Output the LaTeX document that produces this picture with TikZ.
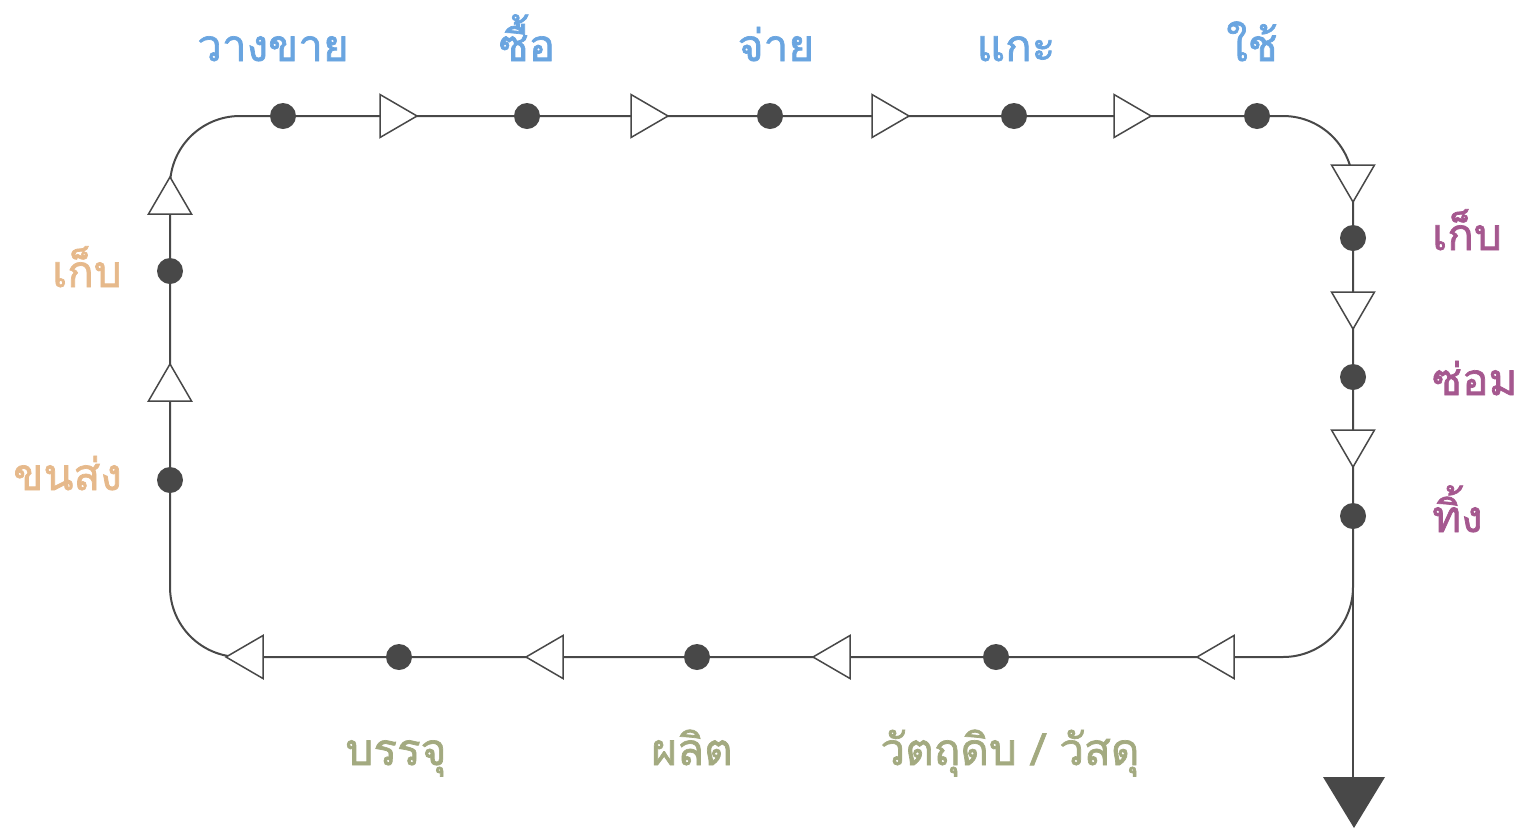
\documentclass[tikz,border=0pt]{standalone}
\usepackage{fontspec}
\newfontfamily\thaifont[Script=Thai,FakeBold=1.6]{Loma}
\definecolor{lc}{HTML}{484848}
\definecolor{cblue}{HTML}{6AA5E0}
\definecolor{cpurple}{HTML}{A5588F}
\definecolor{corange}{HTML}{E6B98B}
\definecolor{colive}{HTML}{A3AA80}
\tikzset{
  flow/.style={draw=lc, line width=2pt},
  dot/.style={circle, fill=lc, inner sep=0pt, minimum size=26pt},
  lbl/.style={font=\thaifont\fontsize{44}{50}\selectfont, inner sep=0pt},
  pics/flowmark/.style={code={\draw[draw=lc, line width=1.5pt, fill=white, line join=miter] (0,-21.5) -- (37,0) -- (0,21.5) -- cycle;}},
  pics/sinkmark/.style={code={\fill[lc] (-31,0) -- (31,0) -- (0,51) -- cycle;}}
}
\begin{document}
\begin{tikzpicture}[x=1pt,y=-1pt]
\useasboundingbox (0,0) rectangle (1527,831);
% loop
\coordinate (tl) at (170,116);
\coordinate (tr) at (1353,116);
\coordinate (br) at (1353,657);
\coordinate (bl) at (170,657);
\coordinate (rs) at (1353,400);
\coordinate (ex) at (1353,500);
\coordinate (exend) at (1353,780);
\draw[flow, rounded corners=70pt] (rs) -- (br) -- (bl) -- (tl) -- (tr) -- cycle;
\draw[flow] (ex) -- (exend);
\pic (sink) at (1354,777) {sinkmark};
% arrow marks: top (right)
\pic at (380,116) {flowmark};
\pic at (631,116) {flowmark};
\pic at (872,116) {flowmark};
\pic at (1114,116) {flowmark};
% right (down)
\pic[rotate=-90] at (1353,165) {flowmark};
\pic[rotate=-90] at (1353,292) {flowmark};
\pic[rotate=-90] at (1353,430) {flowmark};
% bottom (left)
\pic[rotate=180] at (1234,657) {flowmark};
\pic[rotate=180] at (850,657) {flowmark};
\pic[rotate=180] at (563,657) {flowmark};
\pic[rotate=180] at (263,657) {flowmark};
% left (up)
\pic[rotate=90] at (170,401) {flowmark};
\pic[rotate=90] at (170,214) {flowmark};
% dots
\node[dot] (t1) at (283,116) {};
\node[dot] (t2) at (527,116) {};
\node[dot] (t3) at (770,116) {};
\node[dot] (t4) at (1014,116) {};
\node[dot] (t5) at (1257,116) {};
\node[dot] (r1) at (1353,238) {};
\node[dot] (r2) at (1353,377) {};
\node[dot] (r3) at (1353,516) {};
\node[dot] (b1) at (996,657) {};
\node[dot] (b2) at (697,657) {};
\node[dot] (b3) at (399,657) {};
\node[dot] (l1) at (170,480) {};
\node[dot] (l2) at (170,271) {};
% labels
\node[lbl, text=cblue, anchor=base] (lt1) at (273,61) {วางขาย};
\node[lbl, text=cblue, anchor=base] (lt2) at (527,61) {ซื้อ};
\node[lbl, text=cblue, anchor=base] (lt3) at (776,61) {จ่าย};
\node[lbl, text=cblue, anchor=base] (lt4) at (1016,61) {แกะ};
\node[lbl, text=cblue, anchor=base] (lt5) at (1252,61) {ใช้};
\node[lbl, text=cpurple, anchor=base west] (lr1) at (1432,250) {เก็บ};
\node[lbl, text=cpurple, anchor=base west] (lr2) at (1432,395) {ซ่อม};
\node[lbl, text=cpurple, anchor=base west] (lr3) at (1432,532) {ทิ้ง};
\node[lbl, text=corange, anchor=base east] (ll1) at (122,287) {เก็บ};
\node[lbl, text=corange, anchor=base east] (ll2) at (122,490) {ขนส่ง};
\node[lbl, text=colive, anchor=base] (lb1) at (396,765) {บรรจุ};
\node[lbl, text=colive, anchor=base] (lb2) at (692,765) {ผลิต};
\node[lbl, text=colive, anchor=base] (lb3) at (1010,765) {วัตถุดิบ / วัสดุ};
\end{tikzpicture}
\end{document}
